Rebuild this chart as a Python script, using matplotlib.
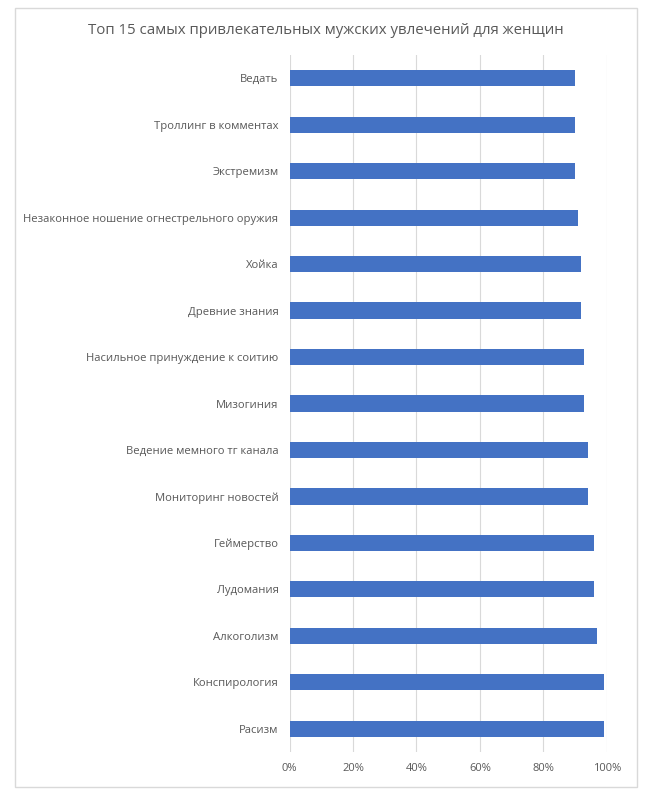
import matplotlib
matplotlib.use("Agg")
import matplotlib.pyplot as plt
from matplotlib.patches import Rectangle
from matplotlib.ticker import PercentFormatter

# top to bottom as in the picture
hobbies = [
    "Ведать",
    "Троллинг в комментах",
    "Экстремизм",
    "Незаконное ношение огнестрельного оружия",
    "Хойка",
    "Древние знания",
    "Насильное принуждение к соитию",
    "Мизогиния",
    "Ведение мемного тг канала",
    "Мониторинг новостей",
    "Геймерство",
    "Лудомания",
    "Алкоголизм",
    "Конспирология",
    "Расизм",
]
share = [90, 90, 90, 91, 92, 92, 93, 93, 94, 94, 96, 96, 97, 99, 99]
x_ticks = [0, 20, 40, 60, 80, 100]

plt.rcParams['font.family'] = ['Open Sans', 'DejaVu Sans']
text_col = '#595959'

fig = plt.figure(figsize=(6.61, 8), dpi=100)
fig.patches.append(Rectangle((15 / 661, 1 - 787 / 800), 622 / 661, 779 / 800,
                             transform=fig.transFigure, fill=False,
                             edgecolor='#d9d9d9', linewidth=1))
ax = fig.add_axes([289.5 / 661, 1 - 752 / 800, 317.2 / 661, 697 / 800])

ypos = list(range(len(hobbies)))
ax.barh(ypos, share, height=0.35, color='#4472c4', zorder=3)
ax.set_ylim(len(hobbies) - 0.5, -0.5)
ax.set_yticks(ypos)
ax.set_yticklabels(hobbies, fontsize=8.1, color=text_col)
ax.set_xlim(0, 100)
ax.set_xticks(x_ticks)
ax.xaxis.set_major_formatter(PercentFormatter(decimals=0))
ax.tick_params(axis='x', labelsize=8, colors=text_col, length=0, pad=8)
ax.tick_params(axis='y', length=0, pad=8)
ax.grid(axis='x', color='#d9d9d9', linewidth=0.8, zorder=0)
for s in ax.spines.values():
    s.set_visible(False)

fig.text(0.5 * (88 + 563) / 661, 1 - 30 / 800,
         "Топ 15 самых привлекательных мужских увлечений для женщин",
         ha='center', va='center', fontsize=10.8, color=text_col)

fig.savefig("out.png", dpi=100)
